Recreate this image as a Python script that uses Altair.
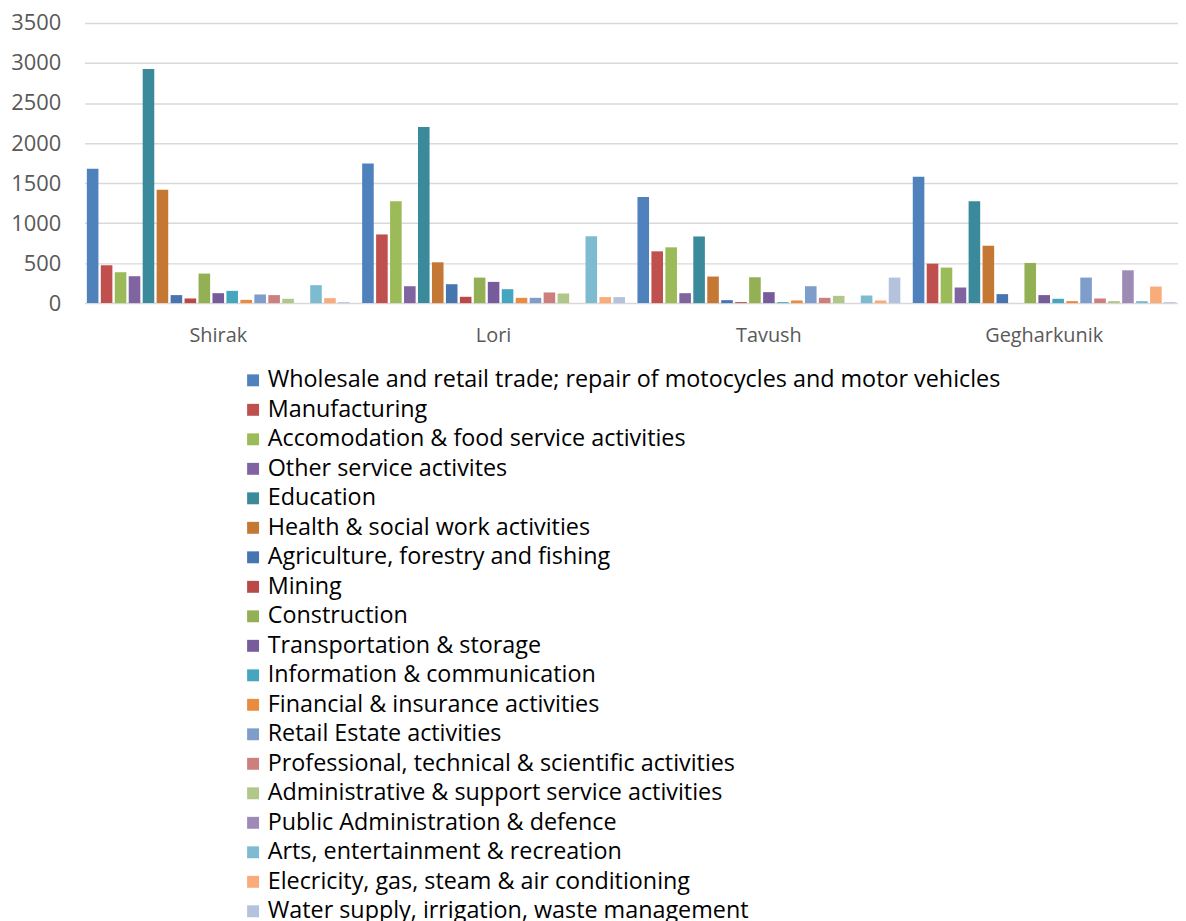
import altair as alt
import pandas as pd

regions = ["Shirak", "Lori", "Tavush", "Gegharkunik"]

industries = [
    "Wholesale and retail trade; repair of motocycles and motor vehicles",
    "Manufacturing",
    "Accomodation & food service activities",
    "Other service activites",
    "Education",
    "Health & social work activities",
    "Agriculture, forestry and fishing",
    "Mining",
    "Construction",
    "Transportation & storage",
    "Information & communication",
    "Financial & insurance activities",
    "Retail Estate activities",
    "Professional, technical & scientific activities",
    "Administrative & support service activities",
    "Public Administration & defence",
    "Arts, entertainment & recreation",
    "Elecricity, gas, steam & air conditioning",
    "Water supply, irrigation, waste management",
]

# values per industry, in order Shirak, Lori, Tavush, Gegharkunik
wholesale = [1680, 1745, 1327, 1580]
manufacturing = [473, 858, 647, 493]
accomodation = [386, 1273, 697, 444]
other_service = [336, 211, 124, 195]
education = [2927, 2201, 833, 1273]
health = [1418, 510, 332, 717]
agriculture = [100, 236, 37, 112]
mining = [58, 79, 12, 0]
construction = [369, 319, 323, 502]
transportation = [124, 265, 137, 100]
information = [153, 174, 12, 54]
financial = [41, 66, 33, 25]
real_estate = [108, 66, 211, 319]
professional = [100, 133, 66, 58]
administrative = [54, 120, 91, 25]
public_admin = [0, 0, 0, 410]
arts = [224, 837, 95, 25]
electricity = [62, 75, 33, 207]
water = [12, 75, 319, 12]

series = [wholesale, manufacturing, accomodation, other_service, education, health,
          agriculture, mining, construction, transportation, information, financial,
          real_estate, professional, administrative, public_admin, arts, electricity, water]

colors = ["#4F81BD", "#C0504D", "#9BBB59", "#8064A2", "#3B8A9C", "#C57834",
          "#4675B0", "#B94846", "#93B055", "#765C9A", "#47A6BF", "#EA8C3F",
          "#7F9DCA", "#CD7F7D", "#B1C78A", "#9E8BB5", "#7DBCD0", "#F9AB7A", "#B4C2DD"]

rows = []
for name, vals in zip(industries, series):
    for reg, v in zip(regions, vals):
        rows.append({"region": reg, "industry": name, "value": v})
df = pd.DataFrame(rows)

FONT = "Open Sans"

chart = alt.Chart(df).mark_bar().encode(
    x=alt.X("region:N", sort=regions,
            scale=alt.Scale(paddingInner=0.03, paddingOuter=0.001, round=False),
            axis=alt.Axis(title=None, labelAngle=0, ticks=False, domain=False,
                          labelFontSize=20, labelColor="#595959", labelPadding=23,
                          labelFont=FONT)),
    xOffset=alt.XOffset("industry:N", sort=industries,
                        scale=alt.Scale(paddingInner=0.17, paddingOuter=0.15)),
    y=alt.Y("value:Q", scale=alt.Scale(domain=[0, 3500], nice=False),
            axis=alt.Axis(values=list(range(0, 3501, 500)), format="d", title=None,
                          ticks=False, domain=False, gridColor="#D9D9D9", gridWidth=1.5,
                          labelFontSize=22, labelColor="#595959", labelPadding=24,
                          labelFont=FONT)),
    color=alt.Color("industry:N", sort=industries,
                    scale=alt.Scale(domain=industries, range=colors),
                    legend=alt.Legend(title=None, orient="none", legendX=158, legendY=348,
                                      direction="vertical", columns=1, symbolType="square",
                                      symbolSize=144, symbolStrokeWidth=0, symbolOpacity=1,
                                      labelFontSize=23.5, labelColor="#000000", labelFont=FONT,
                                      labelOffset=3, rowPadding=4.7, labelLimit=1000,
                                      padding=0)),
).properties(
    width=1101, height=282,
    padding={"left": 77, "top": 12, "right": 0, "bottom": 620},
    autosize="none",
).configure_view(stroke=None)

chart.save("out.html", embed_options={"renderer": "svg", "actions": False})
